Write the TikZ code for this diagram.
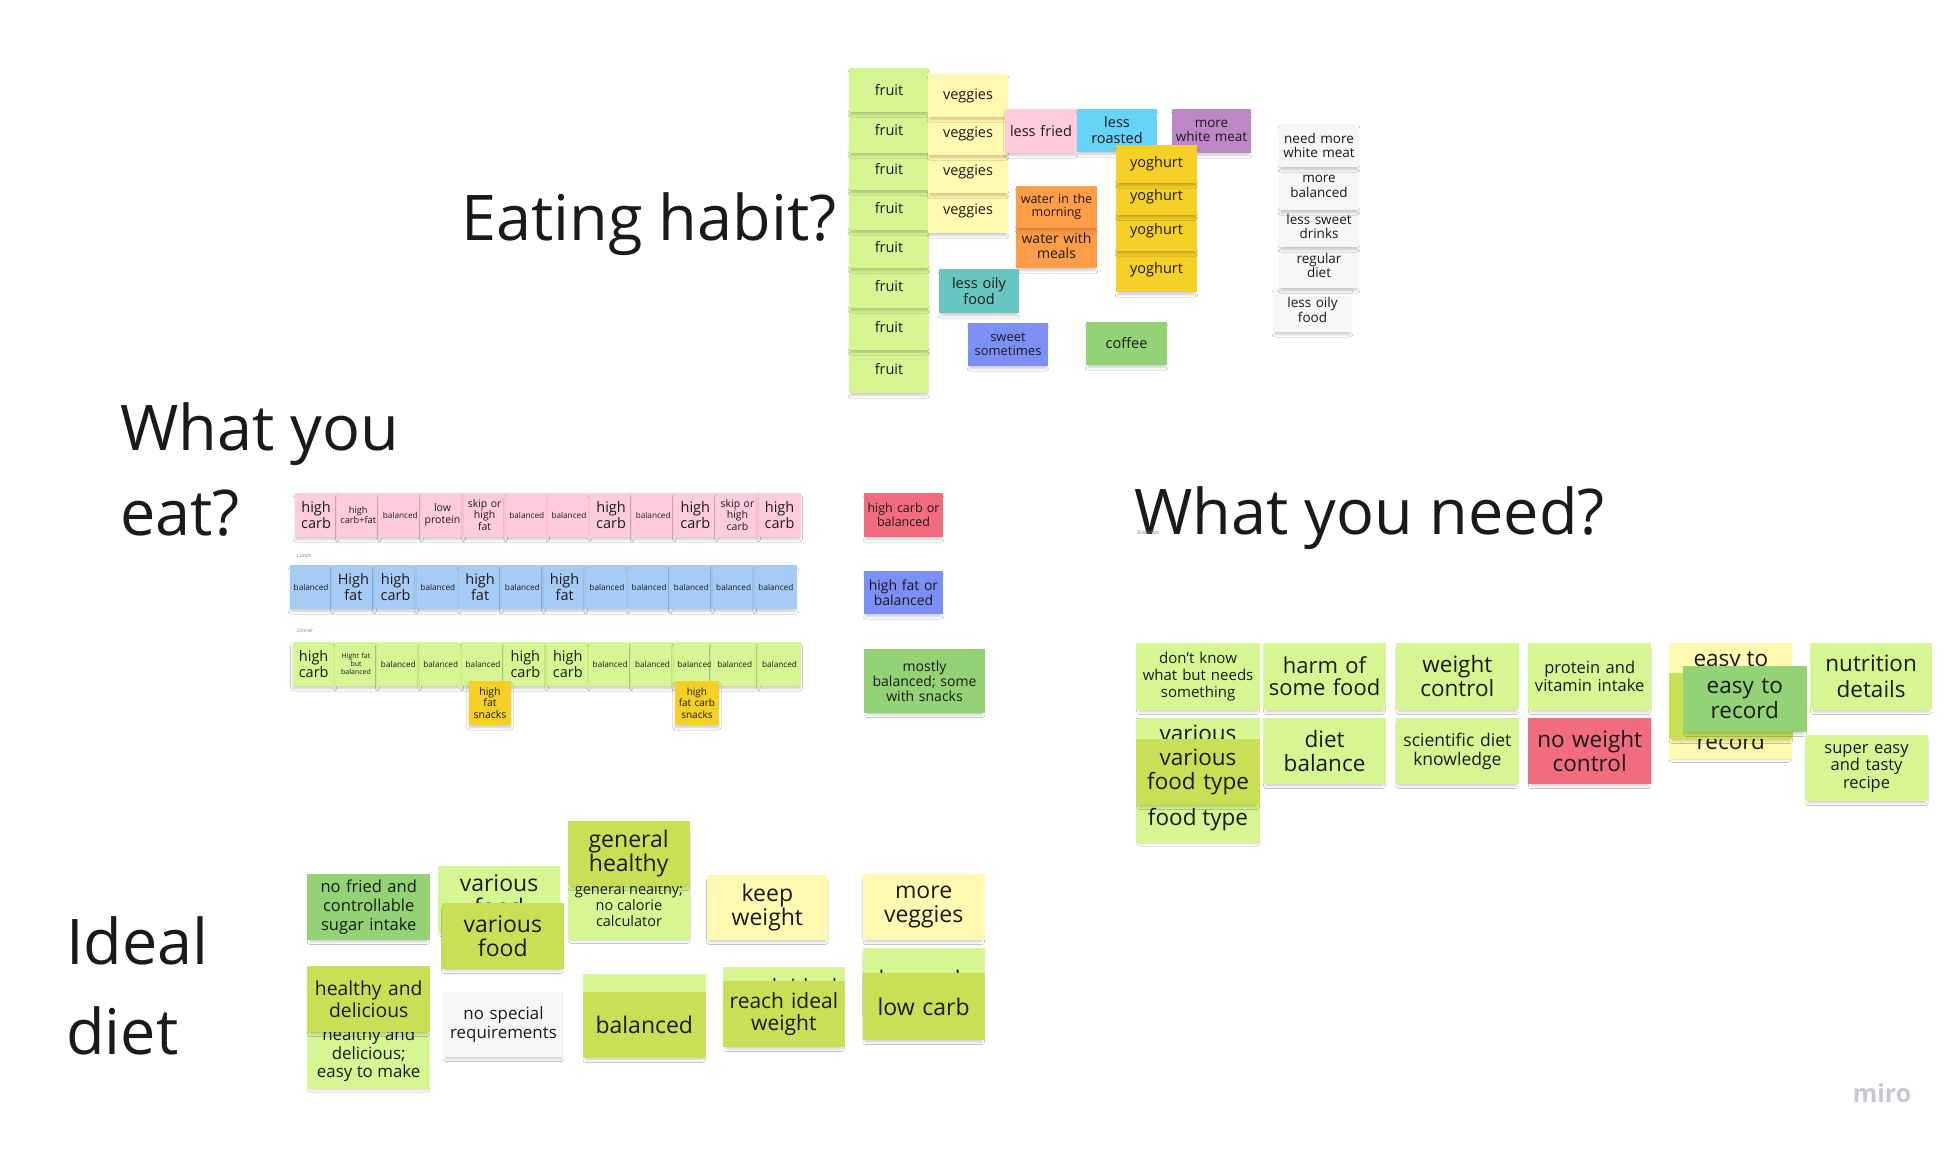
\documentclass[tikz,border=0pt]{standalone}
\usepackage{fontspec}
\setmainfont{Open Sans}
\usetikzlibrary{shadows.blur}

% sticky-note palette
\definecolor{ink}{HTML}{1A1A1A}
\definecolor{lgreen}{HTML}{D5F692}
\definecolor{lyellow}{HTML}{FFF9B1}
\definecolor{lpink}{HTML}{FFCCDD}
\definecolor{skyblue}{HTML}{66D4F7}
\definecolor{violet}{HTML}{BE88C7}
\definecolor{gold}{HTML}{F5D128}
\definecolor{orange}{HTML}{FF9D48}
\definecolor{teal}{HTML}{67C6C0}
\definecolor{dblue}{HTML}{7B8FF5}
\definecolor{dgreen}{HTML}{93D275}
\definecolor{olive}{HTML}{C9DF56}
\definecolor{red}{HTML}{F16C7F}
\definecolor{lblue}{HTML}{A6CCF5}
\definecolor{paper}{HTML}{F5F6F8}
\definecolor{logo}{HTML}{C5C8D2}

\newcommand\fsz[2]{\fontsize{#1pt}{#2pt}\selectfont}
\newcommand\FBig{\fsz{14.5}{15.5}}
\newcommand\FBal{\fsz{8.2}{9.5}}
\newcommand\FMid{\fsz{10.5}{11.7}}
\newcommand\FNote{\fsz{14.5}{16}}
\newcommand\FWhite{\fsz{13.5}{14.5}}
\newcommand\FNeed{\fsz{22.5}{24}}
\newcommand\FIdeal{\fsz{23}{24}}

\tikzset{
  note/.style={rectangle, inner sep=0pt, align=center, text=ink,
    blur shadow={shadow xshift=0pt, shadow yshift=-3.5pt, shadow scale=0.95,
                 shadow opacity=22, shadow blur radius=3pt}},
  loose/.style={inner sep=0pt, align=center, text=ink},
  title/.style={inner sep=0pt, text=ink, anchor=base west, font=\fsz{63}{70}},
  tiny/.style={inner sep=0pt, text=gray, anchor=west, font=\fsz{5}{6}},
}

% \sticky{name}{x1}{y1}{x2}{y2}{colour}{font}{text}  (pixel-style coordinates, y downwards)
\newcommand\sticky[8]{%
  \pgfmathsetmacro\stX{((#2)+(#4))/2}%
  \pgfmathsetmacro\stY{-((#3)+(#5))/2}%
  \pgfmathsetmacro\stW{(#4)-(#2)}%
  \pgfmathsetmacro\stH{(#5)-(#3)}%
  \node[note, fill=#6, font={#7}, minimum width=\stW pt, minimum height=\stH pt,
        text width=\stW pt] (#1) at (\stX,\stY) {#8};%
}
% free text placed at a centre point
\newcommand\stext[5]{\node[loose, font={#4}] (#1) at (#2,-#3) {#5};}

\begin{document}
\begin{tikzpicture}[x=1pt,y=1pt]
\fill[white] (0,0) rectangle (1958,-1148);
\useasboundingbox (0,0) rectangle (1958,-1148);

% ---------------- headings ----------------
\node[title] (tEat) at (461,-240) {Eating habit?};
\node[title] (tWhat1) at (120,-450) {What you};
\node[title] (tWhat2) at (120,-535) {eat?};
\node[title] (tNeed) at (1134,-534) {What you need?};
\node[title] (tIdeal1) at (66,-964) {Ideal};
\node[title] (tIdeal2) at (66,-1054) {diet};

% ---------------- eating habit ----------------
\sticky{fr8}{849}{346}{929}{393}{lgreen}{\FNote}{fruit}
\sticky{fr7}{849}{304}{929}{350}{lgreen}{\FNote}{fruit}
\sticky{fr6}{849}{264}{929}{308}{lgreen}{\FNote}{fruit}
\sticky{fr5}{849}{226}{929}{268}{lgreen}{\FNote}{fruit}
\sticky{fr4}{849}{186}{929}{230}{lgreen}{\FNote}{fruit}
\sticky{fr3}{849}{149}{929}{190}{lgreen}{\FNote}{fruit}
\sticky{fr2}{849}{108}{929}{153}{lgreen}{\FNote}{fruit}
\sticky{fr1}{849}{68}{929}{112}{lgreen}{\FNote}{fruit}

\sticky{vg4}{928}{189}{1008}{233}{lyellow}{\FNote}{veggies}
\sticky{vg3}{928}{151}{1008}{193}{lyellow}{\FNote}{veggies}
\sticky{vg2}{928}{113}{1008}{155}{lyellow}{\FNote}{veggies}
\sticky{vg1}{928}{74}{1008}{117}{lyellow}{\FNote}{veggies}

\sticky{fried}{1005}{109}{1077}{153}{lpink}{\FNote}{less fried}
\sticky{roast}{1077}{109}{1157}{152}{skyblue}{\FNote}{less\\roasted}
\sticky{wmeat}{1172}{109}{1251}{153}{violet}{\fsz{13.5}{14.5}}{more\\white meat}

\sticky{yg4}{1116}{247}{1197}{292}{gold}{\FNote}{yoghurt}
\sticky{yg3}{1116}{211}{1197}{251}{gold}{\FNote}{yoghurt}
\sticky{yg2}{1116}{179}{1197}{215}{gold}{\FNote}{yoghurt}
\sticky{yg1}{1116}{145}{1197}{183}{gold}{\FNote}{yoghurt}

\sticky{wat2}{1016}{224}{1097}{268}{orange}{\fsz{14}{15}}{water with\\meals}
\sticky{wat1}{1016}{186}{1097}{228}{orange}{\fsz{12.5}{13.5}}{water in the\\morning}

\sticky{oily}{939}{269}{1019}{313}{teal}{\FNote}{less oily\\food}
\sticky{sweet}{968}{323}{1048}{366}{dblue}{\fsz{13}{14}}{sweet\\sometimes}
\sticky{coffee}{1086}{322}{1167}{365}{dgreen}{\FNote}{coffee}

\sticky{wh5}{1273}{288}{1352}{332}{paper}{\FWhite}{less oily\\food}
\sticky{wh4}{1279}{243}{1359}{288}{paper}{\FWhite}{regular\\diet}
\sticky{wh3}{1279}{206}{1359}{247}{paper}{\FWhite}{less sweet\\drinks}
\sticky{wh2}{1279}{163}{1359}{210}{paper}{\FWhite}{more\\balanced}
\sticky{wh1}{1279}{124}{1359}{167}{paper}{\FWhite}{need more\\white meat}

% ---------------- what you eat ----------------
\node[tiny] (lBreak) at (1137,-533) {Breakfast};
\node[tiny] (lLunch) at (297,-556) {Lunch};
\node[tiny] (lDinner) at (297,-631) {Dinner};

% breakfast row
\sticky{b1}{295+42.14*0}{493}{295+42.14*1}{537}{lpink}{\FBig}{high\\carb}
\sticky{b2}{295+42.14*1}{493}{295+42.14*2}{537}{lpink}{\fsz{9.2}{10}}{high\\carb+fat}
\sticky{b3}{295+42.14*2}{493}{295+42.14*3}{537}{lpink}{\FBal}{balanced}
\sticky{b4}{295+42.14*3}{493}{295+42.14*4}{537}{lpink}{\FMid}{low\\protein}
\sticky{b5}{295+42.14*4}{493}{295+42.14*5}{537}{lpink}{\FMid}{skip or\\high\\fat}
\sticky{b6}{295+42.14*5}{493}{295+42.14*6}{537}{lpink}{\FBal}{balanced}
\sticky{b7}{295+42.14*6}{493}{295+42.14*7}{537}{lpink}{\FBal}{balanced}
\sticky{b8}{295+42.14*7}{493}{295+42.14*8}{537}{lpink}{\FBig}{high\\carb}
\sticky{b9}{295+42.14*8}{493}{295+42.14*9}{537}{lpink}{\FBal}{balanced}
\sticky{b10}{295+42.14*9}{493}{295+42.14*10}{537}{lpink}{\FBig}{high\\carb}
\sticky{b11}{295+42.14*10}{493}{295+42.14*11}{537}{lpink}{\FMid}{skip or\\high\\carb}
\sticky{b12}{295+42.14*11}{493}{295+42.14*12}{537}{lpink}{\FBig}{high\\carb}

% lunch row
\sticky{l1}{290+42.25*0}{565}{290+42.25*1}{609}{lblue}{\FBal}{balanced}
\sticky{l2}{290+42.25*1}{565}{290+42.25*2}{609}{lblue}{\FBig}{High\\fat}
\sticky{l3}{290+42.25*2}{565}{290+42.25*3}{609}{lblue}{\FBig}{high\\carb}
\sticky{l4}{290+42.25*3}{565}{290+42.25*4}{609}{lblue}{\FBal}{balanced}
\sticky{l5}{290+42.25*4}{565}{290+42.25*5}{609}{lblue}{\FBig}{high\\fat}
\sticky{l6}{290+42.25*5}{565}{290+42.25*6}{609}{lblue}{\FBal}{balanced}
\sticky{l7}{290+42.25*6}{565}{290+42.25*7}{609}{lblue}{\FBig}{high\\fat}
\sticky{l8}{290+42.25*7}{565}{290+42.25*8}{609}{lblue}{\FBal}{balanced}
\sticky{l9}{290+42.25*8}{565}{290+42.25*9}{609}{lblue}{\FBal}{balanced}
\sticky{l10}{290+42.25*9}{565}{290+42.25*10}{609}{lblue}{\FBal}{balanced}
\sticky{l11}{290+42.25*10}{565}{290+42.25*11}{609}{lblue}{\FBal}{balanced}
\sticky{l12}{290+42.25*11}{565}{290+42.25*12}{609}{lblue}{\FBal}{balanced}

% dinner row
\sticky{d1}{292.5+42.35*0}{642}{292.5+42.35*1}{686}{lgreen}{\FBig}{high\\carb}
\sticky{d2}{292.5+42.35*1}{642}{292.5+42.35*2}{686}{lgreen}{\fsz{7}{8}}{Hight fat\\but\\balanced}
\sticky{d3}{292.5+42.35*2}{642}{292.5+42.35*3}{686}{lgreen}{\FBal}{balanced}
\sticky{d4}{292.5+42.35*3}{642}{292.5+42.35*4}{686}{lgreen}{\FBal}{balanced}
\sticky{d5}{292.5+42.35*4}{642}{292.5+42.35*5}{686}{lgreen}{\FBal}{balanced}
\sticky{d6}{292.5+42.35*5}{642}{292.5+42.35*6}{686}{lgreen}{\FBig}{high\\carb}
\sticky{d7}{292.5+42.35*6}{642}{292.5+42.35*7}{686}{lgreen}{\FBig}{high\\carb}
\sticky{d8}{292.5+42.35*7}{642}{292.5+42.35*8}{686}{lgreen}{\FBal}{balanced}
\sticky{d9}{292.5+42.35*8}{642}{292.5+42.35*9}{686}{lgreen}{\FBal}{balanced}
\sticky{d10}{292.5+42.35*9}{642}{292.5+42.35*10}{686}{lgreen}{\FBal}{balanced}
\sticky{d11}{711}{642}{292.5+42.35*11}{686}{lgreen}{\FBal}{balanced}
\sticky{d12}{292.5+42.35*11}{642}{292.5+42.35*12}{686}{lgreen}{\FBal}{balanced}

\sticky{snk1}{468.6}{681}{511.4}{725}{gold}{\fsz{10.5}{11.7}}{high\\fat\\snacks}
\sticky{snk2}{674.6}{681}{719.3}{725}{gold}{\fsz{10}{11.7}}{high\\fat carb\\snacks}

\sticky{sumB}{864}{493}{943}{537}{red}{\fsz{12.5}{14}}{high carb or\\balanced}
\sticky{sumL}{864}{571}{943}{614}{dblue}{\fsz{14}{15}}{high fat or\\balanced}
\sticky{sumD}{864}{649}{985}{713}{dgreen}{\fsz{14}{15}}{mostly\\balanced; some\\with snacks}

% ---------------- what you need ----------------
\sticky{nd1}{1136.4}{643}{1259.7}{710}{lgreen}{\fsz{15}{16.7}}{don't know\\what but needs\\something}
\sticky{nd2}{1263.4}{643}{1385.7}{710}{lgreen}{\fsz{22}{22}}{harm of\\some food}
\sticky{nd3}{1395.7}{643}{1519}{710}{lgreen}{\FNeed}{weight\\control}
\sticky{nd4}{1528}{643}{1651.4}{710}{lgreen}{\fsz{16.5}{18}}{protein and\\vitamin intake}
\sticky{ndRecB}{1668.9}{643}{1791.7}{759}{lyellow}{\FNeed}{}
\stext{ndRecT1}{1730.8}{662}{\FNeed}{easy to}
\stext{ndRecT2}{1730.8}{741}{\FNeed}{record}
\sticky{ndRecM}{1668.9}{673}{1792.7}{739}{olive}{\FNeed}{}
\sticky{ndRecF}{1683.1}{666}{1806.5}{732}{dgreen}{\fsz{22.5}{25}}{easy to\\record}
\sticky{nd6}{1810.2}{643}{1932}{710}{lgreen}{\fsz{22.5}{26}}{nutrition\\details}

\sticky{ndVarB}{1136.4}{718}{1259.7}{843}{lgreen}{\FNeed}{}
\stext{ndVarT1}{1198}{733}{\FNeed}{various}
\stext{ndVarT2}{1198}{820}{\FNeed}{food type}
\sticky{ndVarF}{1136.4}{739}{1259.7}{805}{olive}{\FNeed}{various\\food type}
\sticky{nd8}{1263.4}{718}{1385.7}{784}{lgreen}{\FNeed}{diet\\balance}
\sticky{nd9}{1395.7}{718}{1519}{784}{lgreen}{\fsz{17.5}{19}}{scientific diet\\knowledge}
\sticky{nd10}{1528}{718}{1651.4}{784}{red}{\FNeed}{no weight\\control}
\sticky{nd11}{1804.9}{735}{1928.2}{801}{lgreen}{\fsz{16.5}{17.5}}{super easy\\and tasty\\recipe}

% ---------------- ideal diet ----------------
\sticky{id1}{307.4}{874}{430}{940}{dgreen}{\fsz{16.5}{18.7}}{no fried and\\controllable\\sugar intake}
\sticky{idVarB}{437.9}{866}{560}{932}{lgreen}{\FIdeal}{}
\stext{idVarT}{499}{895}{\FIdeal}{various\\food}
\sticky{idVarF}{441.5}{903}{564.1}{969}{olive}{\FIdeal}{various\\food}
\sticky{idGenB}{567.8}{825}{690.4}{940}{lgreen}{\FIdeal}{}
\stext{idGenT}{629}{905}{\fsz{14.5}{16}}{general healthy;\\no calorie\\calculator}
\sticky{idGenF}{567.8}{821}{689.5}{886}{olive}{\FIdeal}{general\\healthy}
\sticky{idKeep}{706.5}{875}{828.2}{940}{lyellow}{\FIdeal}{keep\\weight}
\sticky{idVeg}{862.6}{874}{984.7}{940}{lyellow}{\FIdeal}{more\\veggies}

\sticky{idHeaB}{307.4}{966}{430}{1089}{lgreen}{\FIdeal}{}
\stext{idHeaT}{368.7}{1055}{\fsz{16.9}{18.5}}{healthy and\\delicious;\\easy to make}
\sticky{idHeaF}{307.4}{966}{430}{1032}{olive}{\fsz{19.3}{21.7}}{healthy and\\delicious}
\sticky{idNone}{442.9}{992}{564.1}{1057}{paper}{\fsz{16.9}{19}}{no special\\requirements}
\sticky{idBalB}{583}{974}{705.6}{1040}{lgreen}{\FIdeal}{}
\sticky{idBalF}{583}{992}{705.6}{1058}{olive}{\fsz{23}{25}}{balanced}
\sticky{idReaB}{723}{967}{844.7}{1033}{lgreen}{\FIdeal}{}
\stext{idReaT}{783.8}{987}{\fsz{21}{22}}{reach ideal}
\sticky{idReaF}{723}{981}{844.7}{1047}{olive}{\fsz{21}{22.5}}{reach ideal\\weight}
\sticky{idLowB}{862.6}{948}{984.7}{1014}{lgreen}{\FIdeal}{}
\stext{idLowT}{923.7}{979}{\FIdeal}{low carb}
\sticky{idLowF}{862.6}{973}{984.7}{1040}{olive}{\FIdeal}{low carb}

% board watermark
\node[inner sep=0pt, text=logo, font=\bfseries\fsz{25}{28}] (logo) at (1882,-1093) {miro};
\end{tikzpicture}
\end{document}
